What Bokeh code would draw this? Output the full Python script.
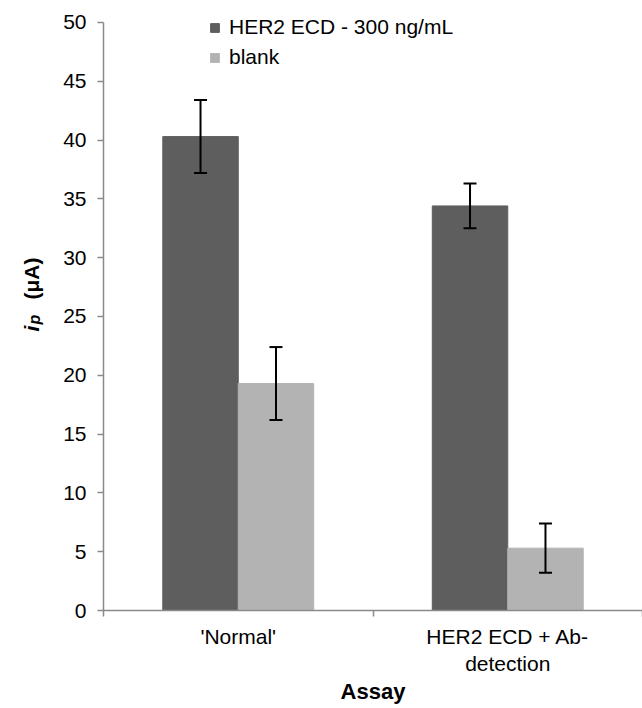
import math
from bokeh.plotting import figure
from bokeh.layouts import row
from bokeh.models import (ColumnDataSource, Whisker, TeeHead, FixedTicker,
                          Legend, LegendItem, Range1d)
from bokeh.core.properties import value
from bokeh.embed import file_html
from bokeh.resources import INLINE

# ---- data ----
categories = ["'Normal'", "HER2 ECD + Ab-\ndetection"]
series_names = ["HER2 ECD - 300 ng/mL", "blank"]
her2_values = [40.3, 34.4]
her2_errors = [3.1, 1.9]
blank_values = [19.3, 5.3]
blank_errors = [3.1, 2.1]
y_ticks = [0, 5, 10, 15, 20, 25, 30, 35, 40, 45, 50]
y_title_parts = ["i", "p", "(μA)"]
x_title = "Assay"

# ---- style ----
FONT = "Liberation Sans"
DARK = "#5e5e5e"
LIGHT = "#b3b3b3"
AXIS = "#8a8a8a"
BAR_W = 0.28
OFFSET = 0.14
H = 708
LEFT_W = 60
Y_MAX = 50
Y_TOP = 51.53
FRAME_TOP = 4
FRAME_BOTTOM = 610

n = len(categories)
centers = [i + 0.5 for i in range(n)]

# ---- main chart ----
p = figure(width=642 - LEFT_W, height=H, output_backend="svg", toolbar_location=None,
           x_range=Range1d(0, n), y_range=Range1d(0, Y_TOP),
           min_border_left=43, min_border_right=0, min_border_top=FRAME_TOP,
           min_border_bottom=H - FRAME_BOTTOM)
p.outline_line_color = None
p.grid.visible = False

src_a = ColumnDataSource(dict(x=[c - OFFSET for c in centers], top=her2_values,
                              upper=[v + e for v, e in zip(her2_values, her2_errors)],
                              lower=[v - e for v, e in zip(her2_values, her2_errors)]))
src_b = ColumnDataSource(dict(x=[c + OFFSET for c in centers], top=blank_values,
                              upper=[v + e for v, e in zip(blank_values, blank_errors)],
                              lower=[v - e for v, e in zip(blank_values, blank_errors)]))

ra = p.vbar(x="x", top="top", width=BAR_W, source=src_a, fill_color=DARK, line_color=DARK)
rb = p.vbar(x="x", top="top", width=BAR_W, source=src_b, fill_color=LIGHT, line_color=LIGHT)

for src in (src_a, src_b):
    w = Whisker(base="x", upper="upper", lower="lower", source=src,
                line_color="black", line_width=2, level="overlay",
                upper_head=TeeHead(size=13, line_width=2, line_color="black"),
                lower_head=TeeHead(size=13, line_width=2, line_color="black"))
    p.add_layout(w)

# y axis
ya = p.yaxis[0]
ya.bounds = (0, Y_MAX)
ya.ticker = FixedTicker(ticks=y_ticks, minor_ticks=[])
ya.axis_line_color = AXIS
ya.axis_line_width = 1.5
ya.major_tick_line_color = AXIS
ya.major_tick_line_width = 1.5
ya.major_tick_out = 6
ya.major_tick_in = 0
ya.minor_tick_line_color = None
ya.major_label_text_font = FONT
ya.major_label_text_font_size = "21px"
ya.major_label_text_color = "black"
ya.major_label_standoff = 11

# x axis
xa = p.xaxis[0]
xa.ticker = FixedTicker(ticks=centers, minor_ticks=list(range(n + 1)))
xa.major_label_overrides = {c: lab for c, lab in zip(centers, categories)}
xa.axis_line_color = AXIS
xa.axis_line_width = 1.5
xa.major_tick_line_color = None
xa.major_tick_out = 0
xa.major_tick_in = 0
xa.minor_tick_line_color = AXIS
xa.minor_tick_line_width = 1.5
xa.minor_tick_out = 6
xa.minor_tick_in = 0
xa.major_label_text_font = FONT
xa.major_label_text_font_size = "21px"
xa.major_label_text_color = "black"
xa.major_label_standoff = 8
xa.axis_label = x_title
xa.axis_label_text_font = FONT
xa.axis_label_text_font_style = "bold"
xa.axis_label_text_font_size = "22px"
xa.axis_label_text_color = "black"
xa.axis_label_standoff = 1

legend = Legend(items=[LegendItem(label=series_names[0], renderers=[ra]),
                       LegendItem(label=series_names[1], renderers=[rb])],
                location=(106, 541))
legend.glyph_width = 11
legend.glyph_height = 11
legend.label_standoff = 9
legend.padding = 0
legend.margin = 0
legend.spacing = 6
legend.background_fill_alpha = 0
legend.border_line_alpha = 0
legend.label_text_font = FONT
legend.label_text_font_size = "21px"
legend.label_text_color = "black"
p.add_layout(legend)

# ---- y axis title panel (i_p (μA)) ----
# frame of this panel is aligned with the main frame; map data y to page pixels (from bottom)
t = figure(width=LEFT_W, height=H, output_backend="svg", toolbar_location=None,
           x_range=Range1d(0, LEFT_W), y_range=Range1d(H - FRAME_BOTTOM, H - FRAME_TOP),
           x_axis_location=None, y_axis_location=None, title=None,
           min_border_left=0, min_border_right=0, min_border_top=FRAME_TOP,
           min_border_bottom=H - FRAME_BOTTOM)
t.outline_line_color = None
t.grid.visible = False
t.text(x=[31], y=[H - 331], text=[y_title_parts[0]], angle=math.pi / 2,
       text_align="left", text_baseline="alphabetic", text_color="black",
       text_font=value(FONT), text_font_style="bold italic", text_font_size="21px")
t.text(x=[34], y=[H - 324], text=[y_title_parts[1]], angle=math.pi / 2,
       text_align="left", text_baseline="alphabetic", text_color="black",
       text_font=value(FONT), text_font_style="bold italic", text_font_size="16px")
t.text(x=[31], y=[H - 299], text=[y_title_parts[2]], angle=math.pi / 2,
       text_align="left", text_baseline="alphabetic", text_color="black",
       text_font=value(FONT), text_font_style="bold", text_font_size="21px")

layout = row(t, p, spacing=0)
open("out.html", "w").write(file_html(layout, INLINE))
